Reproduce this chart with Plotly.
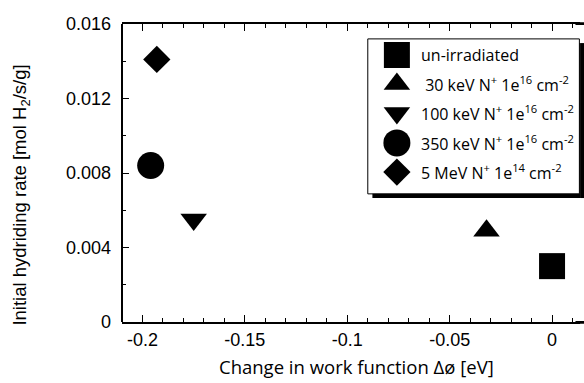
import plotly.graph_objects as go

# Samples: change in work function (eV) vs initial hydriding rate (mol H2/s/g)
labels = [
    "un-irradiated",
    " 30 keV N<sup>+</sup> 1e<sup>16</sup> cm<sup>-2</sup>",
    "100 keV N<sup>+</sup> 1e<sup>16</sup> cm<sup>-2</sup>",
    "350 keV N<sup>+</sup> 1e<sup>16</sup> cm<sup>-2</sup>",
    "5 MeV N<sup>+</sup> 1e<sup>14</sup> cm<sup>-2</sup>",
]
delta_phi = [0.0, -0.032, -0.175, -0.196, -0.193]
rate = [0.0030, 0.0049, 0.0055, 0.0084, 0.0141]
symbols = ["square", "triangle-up", "triangle-down", "circle", "diamond"]
sizes = [26, 23, 23, 27, 21]

x_major = [-0.2, -0.15, -0.1, -0.05, 0]
x_tick_text = ["-0.2", "-0.15", "-0.1", "-0.05", "0"]
y_major = [0, 0.004, 0.008, 0.012, 0.016]
y_tick_text = ["0", "0.004", "0.008", "0.012", "0.016"]

W, H = 584, 383
ML, MR, MT, MB = 122, 0, 24, 61
X_RANGE = [-0.21, 0.0156]
Y_RANGE = [0, 0.016]


def frac_to_x(f):
    return X_RANGE[0] + f * (X_RANGE[1] - X_RANGE[0])


def frac_to_y(f):
    return Y_RANGE[0] + f * (Y_RANGE[1] - Y_RANGE[0])


fig = go.Figure()

for lab, x, y, sym, s in zip(labels, delta_phi, rate, symbols, sizes):
    fig.add_trace(go.Scatter(
        x=[x], y=[y], mode="markers", name=lab, showlegend=False,
        marker=dict(symbol=sym, size=s, color="black", line=dict(width=0)),
        cliponaxis=False,
    ))

# Legend panel (positions given as fractions of the plot area)
key_x = 0.595
text_x = 0.643
row_y = [0.896, 0.799, 0.701, 0.601, 0.503]

box = dict(x0=0.532, x1=0.990, y0=0.430, y1=0.950)
shadow = dict(x0=box["x0"] + 0.010, x1=box["x1"] + 0.010,
              y0=box["y0"] - 0.014, y1=box["y1"] - 0.014)
# drop shadow, then the white legend box over it
fig.add_shape(type="rect", xref="paper", yref="paper", **shadow,
              fillcolor="black", line=dict(width=0), layer="below")
fig.add_shape(type="rect", xref="paper", yref="paper",
              x0=box["x0"], x1=box["x1"], y0=box["y0"], y1=box["y1"],
              fillcolor="white", line=dict(color="black", width=1), layer="below")

for lab, sym, s, ry in zip(labels, symbols, sizes, row_y):
    fig.add_trace(go.Scatter(
        x=[frac_to_x(key_x)], y=[frac_to_y(ry)], mode="markers",
        showlegend=False, hoverinfo="skip",
        marker=dict(symbol=sym, size=s, color="black", line=dict(width=0)),
        cliponaxis=False,
    ))
    fig.add_annotation(
        x=text_x, y=ry, xref="paper", yref="paper", text=lab, showarrow=False,
        xanchor="left", yanchor="middle",
        font=dict(family="Open Sans", size=16, color="black"),
    )

# left frame line of the plot area
fig.add_shape(type="line", xref="paper", yref="paper", x0=0, x1=0, y0=0, y1=1,
              line=dict(color="black", width=2), layer="above")

# the frame is open on the right: blank the right edge strip, then restore
# the shadow sliver and the ends of the top/bottom frame lines
edge = 0.9915
fig.add_shape(type="rect", xref="paper", yref="paper", x0=edge, x1=1.0,
              y0=-0.004, y1=1.004, fillcolor="white", line=dict(width=0),
              layer="above")
fig.add_shape(type="rect", xref="paper", yref="paper", x0=edge, x1=shadow["x1"],
              y0=shadow["y0"], y1=shadow["y1"], fillcolor="black",
              line=dict(width=0), layer="above")
for yy in (0, 1):
    fig.add_shape(type="line", xref="paper", yref="paper", x0=edge - 0.01, x1=1.0,
                  y0=yy, y1=yy, line=dict(color="black", width=2), layer="above")

tick_font = dict(family="Liberation Sans", size=18, color="black")

fig.update_layout(
    width=W, height=H,
    margin=dict(l=ML, r=MR, t=MT, b=MB),
    paper_bgcolor="white", plot_bgcolor="white",
    showlegend=False,
    xaxis=dict(
        range=X_RANGE, showgrid=False, zeroline=False,
        showline=True, linecolor="black", linewidth=2, mirror="allticks",
        ticks="inside", ticklen=7, tickcolor="black",
        tickvals=x_major, ticktext=x_tick_text, tickfont=tick_font,
        minor=dict(dtick=0.01, ticks="inside", ticklen=4, tickcolor="black"),
    ),
    yaxis=dict(
        range=Y_RANGE, showgrid=False, zeroline=False,
        showline=False, mirror=False,
        ticks="inside", ticklen=7, tickcolor="black",
        tickvals=y_major, ticktext=[t + "\u00a0\u00a0" for t in y_tick_text],
        tickfont=tick_font,
        minor=dict(dtick=0.002, ticks="inside", ticklen=4, tickcolor="black"),
    ),
)

fig.add_annotation(
    text="Change in work function Δø [eV]", xref="paper", yref="paper",
    x=0.508, y=-0.151, xanchor="center", yanchor="middle", showarrow=False,
    font=dict(family="Open Sans", size=18.5, color="black"),
)
fig.add_annotation(
    text="Initial hydriding rate [mol H<sub>2</sub>/s/g]",
    xref="paper", yref="paper", x=-0.219, y=0.427, textangle=-90,
    xanchor="center", yanchor="middle", showarrow=False,
    font=dict(family="Liberation Sans", size=18.5, color="black"),
)

fig.write_html("out.html")
